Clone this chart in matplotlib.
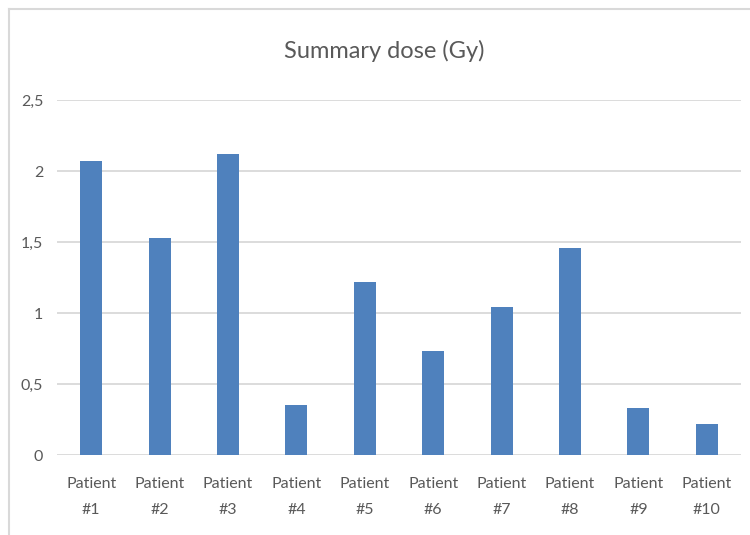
import matplotlib
matplotlib.use("Agg")
import matplotlib.pyplot as plt
from matplotlib.lines import Line2D

patients = ["Patient\n#1", "Patient\n#2", "Patient\n#3", "Patient\n#4", "Patient\n#5",
            "Patient\n#6", "Patient\n#7", "Patient\n#8", "Patient\n#9", "Patient\n#10"]
dose = [2.07, 1.53, 2.12, 0.35, 1.22, 0.73, 1.04, 1.46, 0.33, 0.22]
yticks = [0, 0.5, 1, 1.5, 2, 2.5]
ytick_labels = ["0", "0,5", "1", "1,5", "2", "2,5"]

plt.rcParams["font.family"] = ["Lato", "DejaVu Sans"]
TEXT = "#595959"

fig = plt.figure(figsize=(7.5, 5.35), dpi=100)
ax = fig.add_axes([0.076, 0.1495, 0.912, 0.6635])

x = range(len(patients))
ax.bar(x, dose, width=0.32, color="#4F81BD", zorder=3)

ax.set_ylim(0, 2.5)
ax.set_xlim(-0.5, len(patients) - 0.5)
ax.set_yticks(yticks)
ax.set_yticklabels(ytick_labels)
ax.set_xticks(list(x))
ax.set_xticklabels(patients, linespacing=2.05)
ax.tick_params(axis="y", length=0, pad=10, labelsize=11.5, labelcolor=TEXT)
ax.tick_params(axis="x", length=0, pad=16, labelsize=11.5, labelcolor=TEXT)
ax.grid(axis="y", color="#D9D9D9", linewidth=1.3, zorder=0)
for s in ax.spines.values():
    s.set_visible(False)

fig.text(0.513, 0.905, "Summary dose (Gy)", ha="center", va="center",
         fontsize=17, color=TEXT)

# chart frame
fig.add_artist(Line2D([9 / 750, 1], [1 - 9 / 535] * 2, color="#D9D9D9", lw=1.5,
                      transform=fig.transFigure))
fig.add_artist(Line2D([9 / 750] * 2, [0, 1 - 9 / 535], color="#D9D9D9", lw=1.5,
                      transform=fig.transFigure))

fig.savefig("out.png", dpi=100)
